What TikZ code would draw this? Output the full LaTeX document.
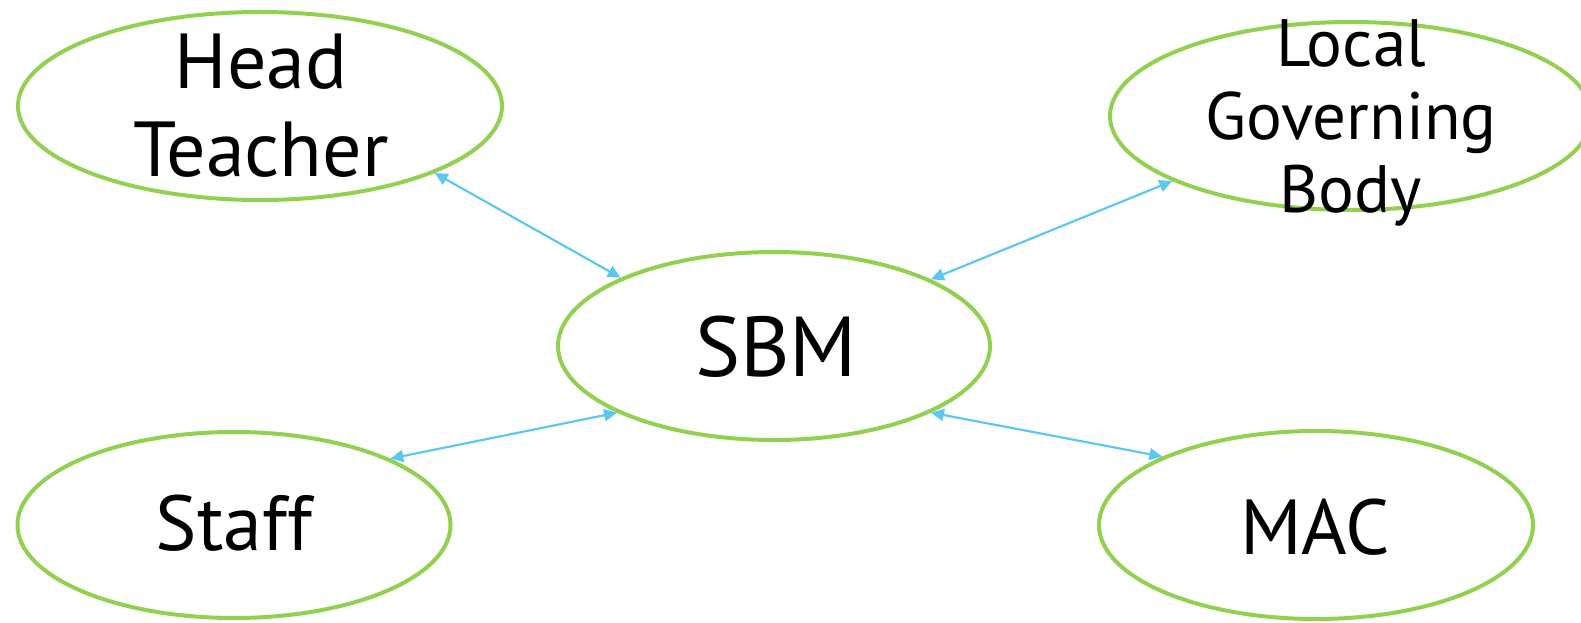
\documentclass[tikz,border=0pt]{standalone}
\usepackage{fontspec}
\setmainfont{PT Sans}
\usepackage{tikz}
\usetikzlibrary{shapes.geometric,arrows.meta}
\definecolor{ringgreen}{RGB}{146,208,80}
\definecolor{linkblue}{RGB}{93,200,238}
\newcommand{\bigtext}[2]{\fontsize{#1}{#2}\selectfont}

\begin{document}
\begin{tikzpicture}[x=1pt,y=1pt,
                    role/.style={ellipse,draw=ringgreen,line width=4pt,inner sep=0pt},
                    link/.style={{Triangle[length=13pt,width=12pt]}-{Triangle[length=13pt,width=12pt]},
                                 draw=linkblue,line width=2.2pt}]

  \useasboundingbox (0,0) rectangle (1581,622);

  \node (sbm) [role,minimum width=432pt,minimum height=188pt] at (774,276) {};
  \node (sbm-text) [font=\bigtext{85}{85}] at (776,275) {SBM};

  \node (head) [role,minimum width=484pt,minimum height=188pt] at (260,516) {};
  \node (head-text) [align=center,font=\bigtext{78}{88}] at (261,516) {Head
    \\ Teacher};

  \node (lgb) [role,minimum width=482pt,minimum height=188pt] at (1351,506) {};
  \node (lgb-text) [align=center,font=\bigtext{67}{73}] at (1351,499) {Local
    \\ Governing \\ Body};

  \node (staff) [role,minimum width=433pt,minimum height=186pt] at (234,97) {};
  \node (staff-text) [font=\bigtext{78}{78}] at (234,99) {Staff};

  \node (mac) [role,minimum width=434pt,minimum height=188pt] at (1316,97) {};
  \node (mac-text) [font=\bigtext{78}{78}] at (1315,95) {MAC};

  \draw [link] (head.-21.6) -- (sbm.156.1);
  \draw [link] (lgb.200.9) -- (sbm.23.6);
  \draw [link] (staff.23.7) -- (sbm.203.2);
  \draw [link] (mac.156.4) -- (sbm.-23.6);

\end{tikzpicture}
\end{document}
